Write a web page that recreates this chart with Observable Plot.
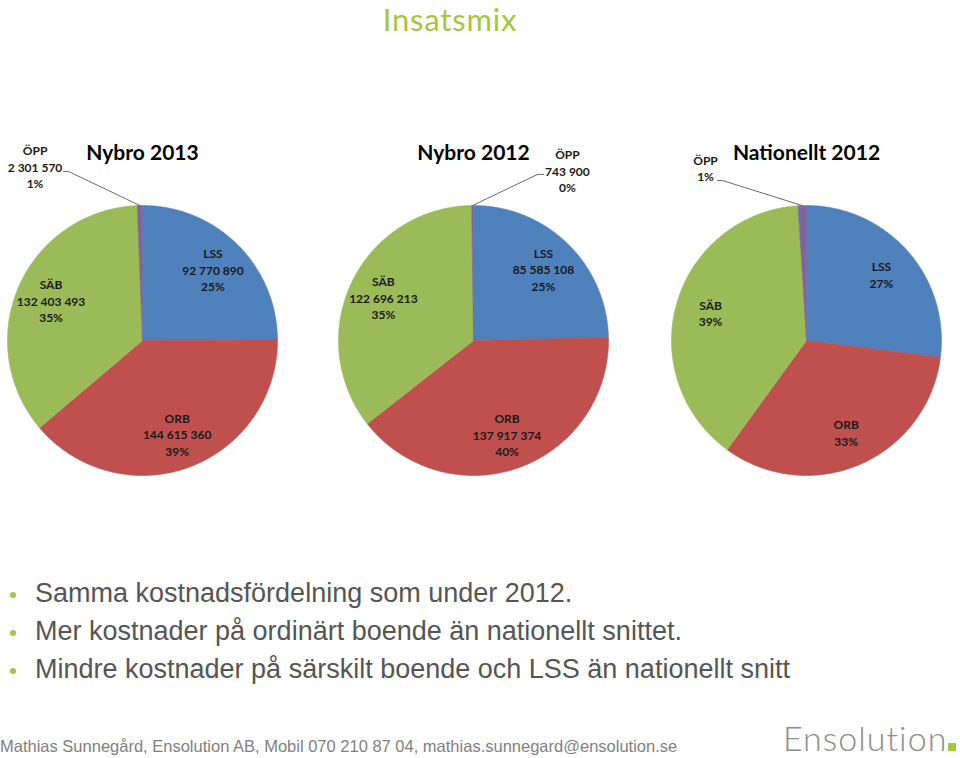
<!DOCTYPE html>
<html>
<head>
<meta charset="utf-8">
<script src="https://cdn.jsdelivr.net/npm/d3@7"></script>
<script src="https://cdn.jsdelivr.net/npm/@observablehq/plot@0.6"></script>
<style>
  body { margin: 0; background: #fff; }
  #page { position: relative; width: 960px; height: 758px; overflow: hidden; background: #fff; }
  #title { position: absolute; left: 0; top: 0; width: 900px; text-align: center; font-family: Lato, sans-serif; font-size: 31px; line-height: 38px; letter-spacing: 0.8px; color: #a6c63c; }
  #chart { position: absolute; left: 0; top: 125px; }
  .bullet { position: absolute; left: 35px; font-family: "Liberation Sans", Arial, sans-serif; font-size: 27px; line-height: 38px; color: #555555; white-space: nowrap; }
  .dot { position: absolute; left: -25px; top: 18px; width: 6px; height: 6px; border-radius: 50%; background: #a6c63c; }
  #footer { position: absolute; left: 0; top: 736px; font-family: "Liberation Sans", Arial, sans-serif; font-size: 16.5px; line-height: 20px; color: #7f7f7f; white-space: nowrap; }
  #logo { position: absolute; left: 783px; top: 720px; font-family: Lato, sans-serif; font-weight: 300; font-size: 34px; line-height: 36px; color: #8c8c8c; white-space: nowrap; letter-spacing: 1px; }
  #logo span { display: inline-block; width: 8px; height: 8px; background: #a6c63c; margin-left: 1px; }
</style>
</head>
<body>
<div id="page">
  <div id="title">Insatsmix</div>
  <div id="chart"></div>
  <div id="bullets"></div>
  <div id="footer">Mathias Sunnegård, Ensolution AB, Mobil 070 210 87 04, mathias.sunnegard@ensolution.se</div>
  <div id="logo">Ensolution<span></span></div>
</div>
<script>
// ---------- data ----------
const pieTitles = ["Nybro 2013", "Nybro 2012", "Nationellt 2012"];
const categories = ["LSS", "ORB", "SÄB", "ÖPP"];
const nybro2013 = [92770890, 144615360, 132403493, 2301570];
const nybro2012 = [85585108, 137917374, 122696213, 743900];
const nationellt2012 = [27, 33, 39, 1];            // only shares are shown
const pct2013 = [25, 39, 35, 1];
const pct2012 = [25, 40, 35, 0];
const pctNationellt = [27, 33, 39, 1];
const showAmounts = [true, true, false];
const bulletTexts = [
  "Samma kostnadsfördelning som under 2012.",
  "Mer kostnader på ordinärt boende än nationellt snittet.",
  "Mindre kostnader på särskilt boende och LSS än nationellt snitt"
];

// ---------- styles / layout ----------
const colors = ["#4f81bd", "#c0504d", "#9bbb59", "#8064a2"];
const W = 960, H = 370, R = 135, CY = 215;
const centerPx = [142, 473, 806];
const titleY = 1.385, labelRadius = 0.74;
const oppLayout = [
  {tx: -0.796, ty: 1.289, s1: -0.548, s2: -0.585, sy: 1.252},
  {tx: 0.696, ty: 1.259, s1: 0.474, s2: 0.519, sy: 1.230},
  {tx: -0.748, ty: 1.278, s1: -0.622, s2: -0.659, sy: 1.185}
];

// ---------- derived geometry ----------
const seriesList = [nybro2013, nybro2012, nationellt2012];
const pctList = [pct2013, pct2012, pctNationellt];
const cx = centerPx.map(p => (p - centerPx[0]) / R);
const pie = d3.pie().sort(null).value(d => d.value);
const fmt = v => d3.format(",")(v).replace(/,/g, " ");

const slicePts = [], labels = [], titles = [], oppLabels = [], leaders = [];
seriesList.forEach((vals, i) => {
  const arcs = pie(vals.map((v, k) => ({cat: categories[k], value: v, pct: pctList[i][k]})));
  titles.push({x: cx[i], y: titleY, text: pieTitles[i]});
  arcs.forEach(a => {
    const key = i + "-" + a.data.cat;
    const n = Math.max(2, Math.ceil((a.endAngle - a.startAngle) / (Math.PI / 360)));
    slicePts.push({key, cat: a.data.cat, x: cx[i], y: 0});
    for (let s = 0; s <= n; s++) {
      const t = a.startAngle + (a.endAngle - a.startAngle) * s / n;
      slicePts.push({key, cat: a.data.cat, x: cx[i] + Math.sin(t), y: Math.cos(t)});
    }
    slicePts.push({key, cat: a.data.cat, x: cx[i], y: 0});
    const mid = (a.startAngle + a.endAngle) / 2;
    const text = showAmounts[i]
      ? `${a.data.cat}\n${fmt(a.data.value)}\n${a.data.pct}%`
      : `${a.data.cat}\n${a.data.pct}%`;
    if (a.data.cat === "ÖPP") {
      const L = oppLayout[i];
      oppLabels.push({x: cx[i] + L.tx, y: L.ty, text});
      leaders.push({key: i, x: cx[i] + Math.sin(mid), y: Math.cos(mid)});
      leaders.push({key: i, x: cx[i] + L.s1, y: L.sy});
      leaders.push({key: i, x: cx[i] + L.s2, y: L.sy});
    } else {
      labels.push({x: cx[i] + labelRadius * Math.sin(mid), y: labelRadius * Math.cos(mid), text});
    }
  });
});

const chart = Plot.plot({
  width: W, height: H, margin: 0,
  style: {fontFamily: "Lato, sans-serif", background: "transparent"},
  x: {domain: [-centerPx[0] / R, (W - centerPx[0]) / R], axis: null},
  y: {domain: [-(H - CY) / R, CY / R], axis: null},
  color: {domain: categories, range: colors},
  marks: [
    Plot.line(slicePts, {x: "x", y: "y", z: "key", fill: "cat", stroke: "cat", strokeWidth: 0.6, curve: "linear"}),
    Plot.line(leaders, {x: "x", y: "y", z: "key", stroke: "#595959", strokeWidth: 0.9}),
    Plot.text(labels, {x: "x", y: "y", text: "text", fontSize: 12, fontWeight: "bold", lineHeight: 1.375, fill: "#1a1a1a"}),
    Plot.text(oppLabels, {x: "x", y: "y", text: "text", fontSize: 12, fontWeight: "bold", lineHeight: 1.375, fill: "#1a1a1a"}),
    Plot.text(titles, {x: "x", y: "y", text: "text", fontSize: 21, fontWeight: "bold", fill: "#000"})
  ]
});
document.getElementById("chart").appendChild(chart);

const bl = document.getElementById("bullets");
bulletTexts.forEach((t, i) => {
  const d = document.createElement("div");
  d.className = "bullet";
  d.style.top = (574 + 38 * i) + "px";
  d.textContent = t;
  const dot = document.createElement("span");
  dot.className = "dot";
  d.appendChild(dot);
  bl.appendChild(d);
});
</script>
</body>
</html>
